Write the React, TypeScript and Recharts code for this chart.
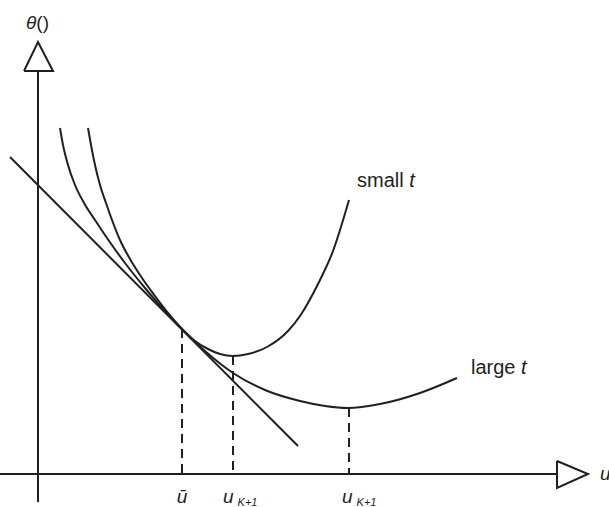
import { ComposedChart, Line, XAxis, YAxis, ReferenceDot } from 'recharts'

// schematic units: u grows to the right, theta grows downward (axis is reversed)
const smallT = [
    { u: 88, theta: 128 }, { u: 91, theta: 145 }, { u: 95, theta: 165 }, { u: 100, theta: 185 },
    { u: 106, theta: 203 }, { u: 112, theta: 220 }, { u: 120, theta: 240 }, { u: 130, theta: 259 },
    { u: 142, theta: 278 }, { u: 155, theta: 296 }, { u: 168, theta: 313 }, { u: 182, theta: 329 },
    { u: 195, theta: 341 }, { u: 208, theta: 349 }, { u: 220, theta: 354 }, { u: 233, theta: 356 },
    { u: 248, theta: 354 }, { u: 267, theta: 347 }, { u: 288, theta: 331 }, { u: 300, theta: 316 },
    { u: 318, theta: 284 }, { u: 333, theta: 251 }, { u: 349, theta: 200 },
]

const largeT = [
    { u: 60, theta: 128 }, { u: 63, theta: 145 }, { u: 68, theta: 165 }, { u: 75, theta: 185 },
    { u: 84, theta: 203 }, { u: 95, theta: 220 }, { u: 107, theta: 238 }, { u: 125, theta: 263 },
    { u: 145, theta: 288 }, { u: 164, theta: 310 }, { u: 182, theta: 329 }, { u: 205, theta: 351 },
    { u: 233, theta: 373 }, { u: 265, theta: 390 }, { u: 300, theta: 401 }, { u: 325, theta: 406 },
    { u: 348, theta: 408 }, { u: 380, theta: 404 }, { u: 420, theta: 393 }, { u: 457, theta: 378 },
]

const tangent = [{ u: 10, theta: 157 }, { u: 298, theta: 446 }]

// feet of the dashed drop lines: u-bar, u_K+1 (small t), u_K+1 (large t)
const drops = [
    { u: 182, theta: 329 },
    { u: 233, theta: 356 },
    { u: 349, theta: 408 },
]

const AXIS_THETA = 474
const AXIS_U = 38

const xAxisLine = [{ u: 0, theta: AXIS_THETA }, { u: 557, theta: AXIS_THETA }]
const yAxisLine = [{ u: AXIS_U, theta: 502 }, { u: AXIS_U, theta: 71 }]
const xArrow = [{ u: 557, theta: 461 }, { u: 588, theta: AXIS_THETA }, { u: 557, theta: 488 }, { u: 557, theta: 461 }]
const yArrow = [{ u: 24, theta: 71 }, { u: AXIS_U, theta: 42 }, { u: 53, theta: 71 }, { u: 24, theta: 71 }]

const INK = '#231f20'
const FONT = '"Liberation Sans", Arial, sans-serif'

const at = (draw: (x: number, y: number) => any) => (props: any) => draw(props.viewBox.x, props.viewBox.y)

export default function App() {
    return (
        <div style={{ position: 'absolute', left: 0, top: 0, background: '#fff' }}>
            <ComposedChart width={609} height={507} margin={{ top: 0, right: 0, bottom: 0, left: 0 }}>
                <XAxis type="number" dataKey="u" domain={[0, 609]} hide />
                <YAxis type="number" dataKey="theta" domain={[0, 507]} reversed hide />

                <Line data={xAxisLine} dataKey="theta" type="linear" stroke={INK} strokeWidth={2} dot={false} activeDot={false} isAnimationActive={false} />
                <Line data={yAxisLine} dataKey="theta" type="linear" stroke={INK} strokeWidth={2} dot={false} activeDot={false} isAnimationActive={false} />
                <Line data={xArrow} dataKey="theta" type="linear" stroke={INK} strokeWidth={2} fill="none" dot={false} activeDot={false} isAnimationActive={false} />
                <Line data={yArrow} dataKey="theta" type="linear" stroke={INK} strokeWidth={2} fill="none" dot={false} activeDot={false} isAnimationActive={false} />

                {drops.map((d, i) => (
                    <Line
                        key={`drop-${i}`}
                        data={[d, { u: d.u, theta: AXIS_THETA }]}
                        dataKey="theta"
                        type="linear"
                        stroke={INK}
                        strokeWidth={2}
                        strokeDasharray="9 6"
                        dot={false}
                        activeDot={false}
                        isAnimationActive={false}
                    />
                ))}

                <Line data={tangent} dataKey="theta" type="linear" stroke={INK} strokeWidth={2} dot={false} activeDot={false} isAnimationActive={false} />
                <Line data={largeT} dataKey="theta" type="monotone" stroke={INK} strokeWidth={2} dot={false} activeDot={false} isAnimationActive={false} />
                <Line data={smallT} dataKey="theta" type="monotone" stroke={INK} strokeWidth={2} dot={false} activeDot={false} isAnimationActive={false} />

                <ReferenceDot x={26} y={29} r={0} stroke="none" label={at((x, y) => (
                    <text x={x} y={y} fontFamily={FONT} fontSize={19} fill={INK}>
                        <tspan fontStyle="italic">θ</tspan>()
                    </text>
                ))} />
                <ReferenceDot x={357} y={187} r={0} stroke="none" label={at((x, y) => (
                    <text x={x} y={y} fontFamily={FONT} fontSize={20} fill={INK}>
                        small <tspan fontStyle="italic">t</tspan>
                    </text>
                ))} />
                <ReferenceDot x={471} y={374} r={0} stroke="none" label={at((x, y) => (
                    <text x={x} y={y} fontFamily={FONT} fontSize={20} fill={INK}>
                        large <tspan fontStyle="italic">t</tspan>
                    </text>
                ))} />
                <ReferenceDot x={182} y={503} r={0} stroke="none" label={at((x, y) => (
                    <text x={x} y={y} fontFamily={FONT} fontSize={19} fontStyle="italic" textAnchor="middle" fill={INK}>
                        ū
                    </text>
                ))} />
                <ReferenceDot x={223} y={503} r={0} stroke="none" label={at((x, y) => (
                    <text x={x} y={y} fontFamily={FONT} fontSize={19} fontStyle="italic" fill={INK}>
                        u<tspan fontSize={11} dx={4} dy={3}>K+1</tspan>
                    </text>
                ))} />
                <ReferenceDot x={342} y={503} r={0} stroke="none" label={at((x, y) => (
                    <text x={x} y={y} fontFamily={FONT} fontSize={19} fontStyle="italic" fill={INK}>
                        u<tspan fontSize={11} dx={4} dy={3}>K+1</tspan>
                    </text>
                ))} />
                <ReferenceDot x={600} y={480} r={0} stroke="none" label={at((x, y) => (
                    <text x={x} y={y} fontFamily={FONT} fontSize={19} fontStyle="italic" fill={INK}>
                        u
                    </text>
                ))} />
            </ComposedChart>
        </div>
    )
}
